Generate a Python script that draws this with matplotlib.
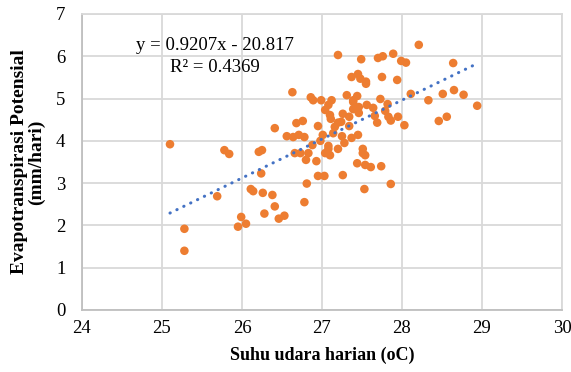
import matplotlib
matplotlib.use("Agg")
import matplotlib.pyplot as plt
import numpy

# daily air temperature (oC) vs potential evapotranspiration (mm/day)
suhu = [25.10, 25.78, 25.84, 26.21, 26.25, 26.24, 26.41, 26.63, 26.56, 26.64,
        26.71, 26.78, 26.68, 26.76, 26.66, 26.73, 26.83, 26.80, 26.81, 26.86,
        26.89, 26.95, 26.93, 26.95, 25.28, 25.28, 25.69, 26.11, 26.14, 26.26,
        26.38, 25.99, 25.95, 26.05, 26.28, 26.41, 26.46, 26.53, 26.78, 28.21,
        27.20, 27.49, 27.70, 27.76, 27.89, 27.99, 28.05, 28.64, 27.37, 27.45,
        27.48, 27.55, 27.55, 27.75, 27.94, 28.11, 28.33, 28.51, 28.65, 28.77,
        28.94, 28.46, 28.56, 26.99, 27.12, 27.08, 27.04, 27.10, 27.11, 27.31,
        27.39, 27.44, 27.39, 27.39, 27.46, 27.46, 27.26, 27.34, 27.56, 27.64,
        27.73, 27.82, 27.79, 27.66, 27.83, 27.86, 27.95, 28.03, 27.69, 27.20,
        27.24, 27.34, 27.16, 27.14, 27.25, 27.37, 27.45, 27.01, 27.08, 27.08,
        27.04, 27.10, 27.28, 27.20, 27.51, 27.51, 27.54, 27.44, 27.54, 27.61,
        27.74, 27.03, 27.26, 27.53, 27.86, 26.88, 26.98]
etp = [3.92, 3.78, 3.69, 3.74, 3.78, 3.23, 4.30, 5.15, 4.11, 4.09,
       4.14, 4.09, 4.42, 4.47, 3.71, 3.71, 3.71, 3.55, 2.99, 5.03,
       4.96, 4.35, 3.52, 3.17, 1.92, 1.40, 2.69, 2.86, 2.81, 2.77,
       2.72, 2.20, 1.97, 2.04, 2.28, 2.45, 2.16, 2.23, 2.55, 6.27,
       6.03, 5.93, 5.96, 6.00, 6.06, 5.89, 5.85, 5.84, 5.51, 5.58,
       5.47, 5.40, 5.35, 5.51, 5.44, 5.11, 4.96, 5.11, 5.20, 5.09,
       4.83, 4.47, 4.57, 4.96, 4.96, 4.85, 4.73, 4.61, 4.52, 5.08,
       4.96, 5.06, 4.92, 4.75, 4.80, 4.66, 4.64, 4.57, 4.85, 4.78,
       4.99, 4.87, 4.71, 4.59, 4.57, 4.48, 4.57, 4.37, 4.43, 4.43,
       4.45, 4.35, 4.33, 4.18, 4.11, 4.07, 4.14, 4.14, 3.88, 3.81,
       3.71, 3.66, 3.95, 3.81, 3.81, 3.71, 3.66, 3.47, 3.43, 3.38,
       3.40, 3.17, 3.19, 2.86, 2.98, 3.90, 4.00]

slope = 0.9207
intercept = -20.817
r2 = 0.4369

plt.rcParams['font.family'] = ['Liberation Serif', 'DejaVu Serif']

fig = plt.figure(figsize=(5.71, 3.72), dpi=100)
ax = fig.add_axes([0.1436, 0.1667, 0.8406, 0.7957])

ax.scatter(suhu, etp, s=38, color='#ED7D31', edgecolors='none', zorder=3)

# linear trend line over the data range
xTrend = numpy.array([min(suhu), max(suhu)])
yTrend = slope * xTrend + intercept
ax.plot(xTrend, yTrend, color='#4472C4', linewidth=2.2,
        linestyle=(0, (0.1, 2.4)), dash_capstyle='round', zorder=4)

ax.text(25.66, 6.26, f"y = {slope}x - {abs(intercept)}", fontsize=13.5,
        ha='center', va='center')
ax.text(25.66, 5.74, f"R\u00b2 = {r2}", fontsize=13.5, ha='center', va='center')

ax.set_xlim(24, 30)
ax.set_ylim(0, 7)
ax.set_xticks(range(24, 31))
ax.set_yticks(range(0, 8))
ax.grid(True, color='#D9D9D9', linewidth=1.3)
ax.set_axisbelow(True)
for side in ax.spines:
    ax.spines[side].set_color('#D9D9D9')
    ax.spines[side].set_linewidth(1.3)
ax.spines['left'].set_color('#BFBFBF')
ax.spines['bottom'].set_color('#BFBFBF')
ax.tick_params(length=0, labelsize=13.5, colors='black')
ax.tick_params(axis='y', pad=12)
ax.tick_params(axis='x', pad=7)

ax.set_xlabel('Suhu udara harian (oC)', fontsize=13, fontweight='bold', labelpad=7)
ax.set_ylabel('Evapotranspirasi Potensial\n(mm/hari)', fontsize=14,
              fontweight='bold', labelpad=8, linespacing=1.0)

fig.savefig('out.png', dpi=100)
